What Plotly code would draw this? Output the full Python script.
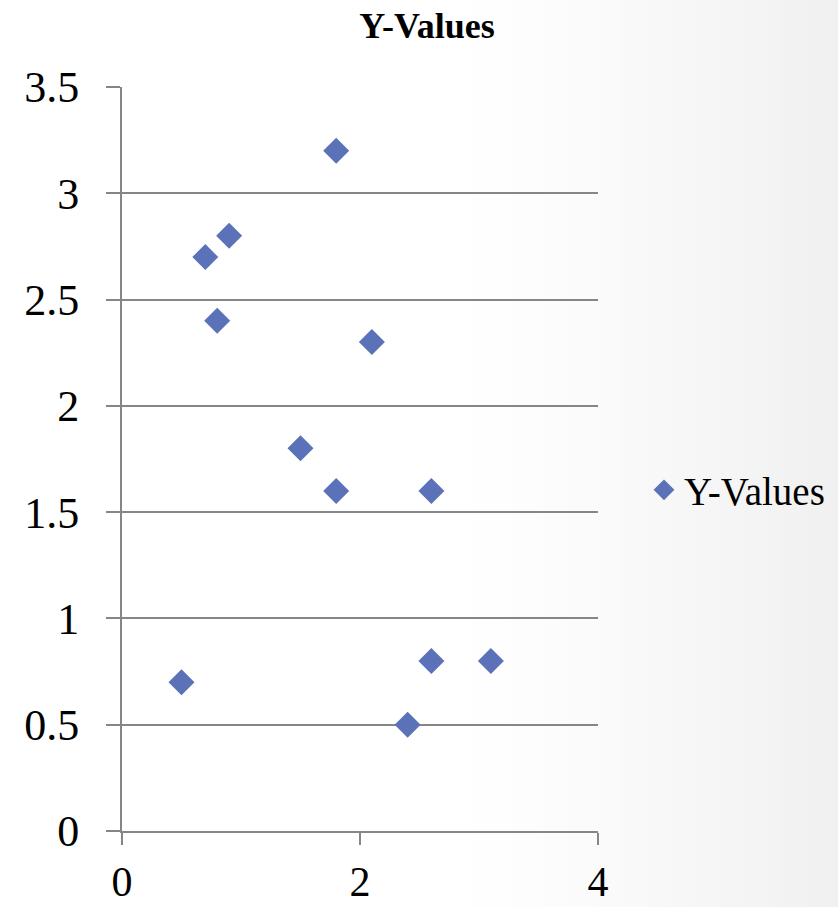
import plotly.graph_objects as go

# Scatter data
x_values = [0.5, 0.7, 0.8, 0.9, 1.5, 1.8, 1.8, 2.1, 2.6, 2.4, 2.6, 3.1]
y_values = [0.7, 2.7, 2.4, 2.8, 1.8, 3.2, 1.6, 2.3, 1.6, 0.5, 0.8, 0.8]
series_name = "Y-Values"
x_ticks = [0, 2, 4]
y_ticks = [0, 0.5, 1, 1.5, 2, 2.5, 3, 3.5]

W, H = 838, 907
L, R, T, B = 122, 240, 87, 76
plot_w = W - L - R
plot_h = H - T - B

fig = go.Figure()
fig.add_trace(go.Scatter(
    x=x_values, y=y_values, mode="markers", name=series_name,
    marker=dict(symbol="diamond", size=20, color="#5b72b8",
                line=dict(width=0)),
    showlegend=True,
))

# faint grey gradient toward the right edge of the page
shapes = []
start_px, n = 440, 50
for i in range(n):
    x0 = start_px + (W - start_px) * i / n
    x1 = start_px + (W - start_px) * (i + 1) / n
    t = (i + 0.5) / n
    g = int(round(255 - 15 * t ** 1.3))
    shapes.append(dict(
        type="rect", xref="paper", yref="paper",
        x0=(x0 - L) / plot_w, x1=(x1 - L) / plot_w + 0.003,
        y0=-0.5, y1=1.5,
        fillcolor=f"rgb({g},{g},{g})", line=dict(width=0), layer="below",
    ))

serif = "Liberation Serif, Times New Roman, serif"
axis_font = dict(family=serif, size=44, color="#000000")

fig.update_layout(
    width=W, height=H,
    margin=dict(l=L, r=R, t=T, b=B, pad=0, autoexpand=False),
    paper_bgcolor="#ffffff",
    plot_bgcolor="rgba(0,0,0,0)",
    shapes=shapes,
    title=dict(text="<b>Y-Values</b>", x=427 / W, xanchor="center",
               y=1 - 25 / H, yanchor="middle",
               font=dict(family=serif, size=36, color="#000000")),
    xaxis=dict(range=[0, 4], tickvals=x_ticks, ticktext=[str(v) for v in x_ticks],
               showgrid=False, zeroline=False, showline=True, linecolor="#868686", linewidth=2,
               ticks="outside", ticklen=12, tickwidth=2, tickcolor="#868686",
               tickfont=dict(family=serif, size=42, color="#000000"),
               ticklabelstandoff=1, automargin=False),
    yaxis=dict(range=[0, 3.5], tickvals=y_ticks, ticktext=[f"{v:g}" for v in y_ticks],
               showgrid=True, gridcolor="#868686", gridwidth=2,
               zeroline=False, showline=True, linecolor="#868686", linewidth=2,
               ticks="outside", ticklen=14, tickwidth=2, tickcolor="#868686",
               tickfont=axis_font, ticklabelstandoff=18, automargin=False),
    legend=dict(x=(644 - L) / plot_w, xanchor="left", y=(H - B - 490) / plot_h, yanchor="middle",
                bgcolor="rgba(0,0,0,0)",
                font=dict(family=serif, size=39, color="#000000"),
                itemwidth=30),
)

fig.write_html("out.html")
